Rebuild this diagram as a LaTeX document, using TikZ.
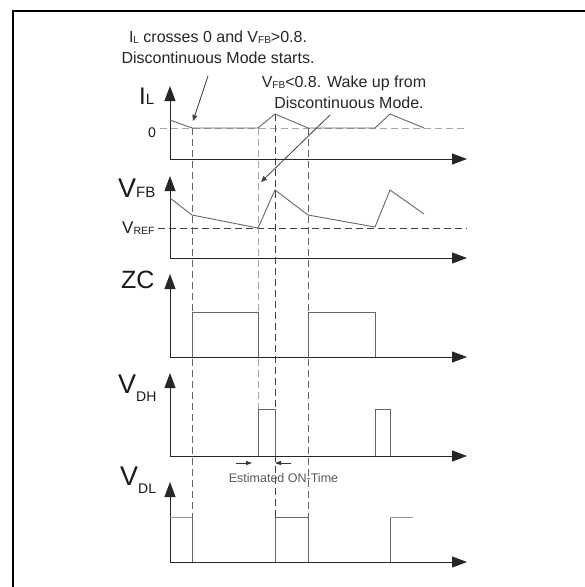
\documentclass[tikz,border=0pt]{standalone}
\usepackage{fontspec}
\setmainfont{Liberation Sans}
\usetikzlibrary{arrows.meta}
\newcommand\fsz[1]{\fontsize{#1}{#1}\selectfont}
\newcommand\sbs[1]{\raisebox{-1.5pt}{\fsz{10}#1}}
\begin{document}
\begin{tikzpicture}[x=1pt,y=-1pt,
  axis/.style={draw=black!85,line width=0.9pt,-{Triangle[length=15pt,width=11pt]}},
  wave/.style={draw=black!60,line width=0.9pt,line join=miter},
  wavelt/.style={draw=black!40,line width=0.9pt},
  dashdark/.style={draw=black!75,line width=0.9pt,dash pattern=on 7pt off 4pt},
  dashmid/.style={draw=black!60,line width=0.9pt,dash pattern=on 7pt off 4pt},
  dashlt/.style={draw=black!35,line width=0.9pt,dash pattern=on 7pt off 4pt},
  lbl/.style={inner sep=0pt,anchor=base west,text=black!90},
  note/.style={inner sep=0pt,anchor=base,text=black!85,font=\fsz{16}},
  notearrow/.style={draw=black!75,line width=0.8pt,-{Triangle[length=6pt,width=5pt]}},
  smallarrow/.style={draw=black!80,line width=0.8pt,-{Triangle[length=6pt,width=4pt]}}]
\useasboundingbox (0,0) rectangle (585,587);
% frame
\draw[line width=2pt] (13,587) -- (13,11) -- (585,11);

% dashed reference lines
\draw[dashlt] (160,128) -- (467,128);
\draw[dashdark] (158,228) -- (467,228);
\draw[dashmid] (192,128) -- (192,517);
\draw[dashlt] (258,128) -- (258,409);
\draw[dashdark] (275,114) -- (275,517);
\draw[dashmid] (308,128) -- (308,517);

% axes
\coordinate (o1) at (170,159); \coordinate (t1) at (170,86); \coordinate (e1) at (467,159);
\coordinate (o2) at (170,258); \coordinate (t2) at (170,176); \coordinate (e2) at (467,258);
\coordinate (o3) at (170,357); \coordinate (t3) at (170,274); \coordinate (e3) at (467,357);
\coordinate (o4) at (170,456); \coordinate (t4) at (170,373); \coordinate (e4) at (467,456);
\coordinate (o5) at (170,562); \coordinate (t5) at (170,482); \coordinate (e5) at (467,562);
\foreach \i in {1,...,5}{
  \draw[axis] (o\i) -- (t\i);
  \draw[axis] (o\i) -- (e\i);
}

% waveforms
\draw[wave] (170,120) -- (192,128) -- (258,128) -- (275,114) -- (308,128) -- (375,128) -- (390,114) -- (424,128);
\draw[wave] (170,198) -- (192,215) -- (258,228) -- (275,190) -- (308,215) -- (375,227) -- (390,190) -- (424,214);
\draw[wave] (192,357) -- (192,312) -- (258,312) -- (258,357);
\draw[wave] (308,357) -- (308,312) -- (375,312) -- (375,357);
\draw[wave] (258,456) -- (258,409) -- (275,409) -- (275,456);
\draw[wave] (375,456) -- (375,409) -- (390,409) -- (390,456);
\draw[wavelt] (170,517) -- (192,517);
\draw[wave] (192,517) -- (192,562);
\draw[wave] (275,562) -- (275,517) -- (308,517) -- (308,562);
\draw[wave] (390,562) -- (390,517);
\draw[wavelt] (390,517) -- (413,517);

% axis labels
\node[lbl,font=\fsz{24}] (lIL) at (139,104) {I\fsz{15}L};
\node[lbl,font=\fsz{14}] (lzero) at (148,137) {0};
\node[lbl,font=\fsz{27}] (lVFB) at (118,197) {V\fsz{15}FB};
\node[lbl,font=\fsz{17}] (lVREF) at (122,233) {V\raisebox{-1pt}{\fsz{10.5}REF}};
\node[lbl,font=\fsz{25}] (lZC) at (121,288) {ZC};
\node[lbl,font=\fsz{27}] (lVDH) at (118,393) {V\raisebox{-8pt}{\fsz{14}DH}};
\node[lbl,font=\fsz{27}] (lVDL) at (120,485) {V\raisebox{-8pt}{\fsz{14}DL}};

% annotations
\node[note] (n1) at (218,42) {I\sbs{L} crosses 0 and V\sbs{FB}>0.8.};
\node[note] (n2) at (218,63) {Discontinuous Mode starts.};
\node[note] (n3) at (344,87) {V\sbs{FB}<0.8. Wake up from};
\node[note] (n4) at (349,108) {Discontinuous Mode.};
\coordinate (a1s) at (208,76); \coordinate (a1e) at (193,121);
\coordinate (a2s) at (330,115); \coordinate (a2e) at (261,182);
\draw[notearrow] (a1s) -- (a1e);
\draw[notearrow] (a2s) -- (a2e);

% estimated on-time
\coordinate (m1s) at (236,463); \coordinate (m1e) at (252,463);
\coordinate (m2s) at (291,463); \coordinate (m2e) at (275,463);
\draw[smallarrow] (m1s) -- (m1e);
\draw[smallarrow] (m2s) -- (m2e);
\node[inner sep=0pt,anchor=base,text=black!65,font=\fsz{12.5}] (est) at (283.5,482) {Estimated ON-Time};
\end{tikzpicture}
\end{document}
